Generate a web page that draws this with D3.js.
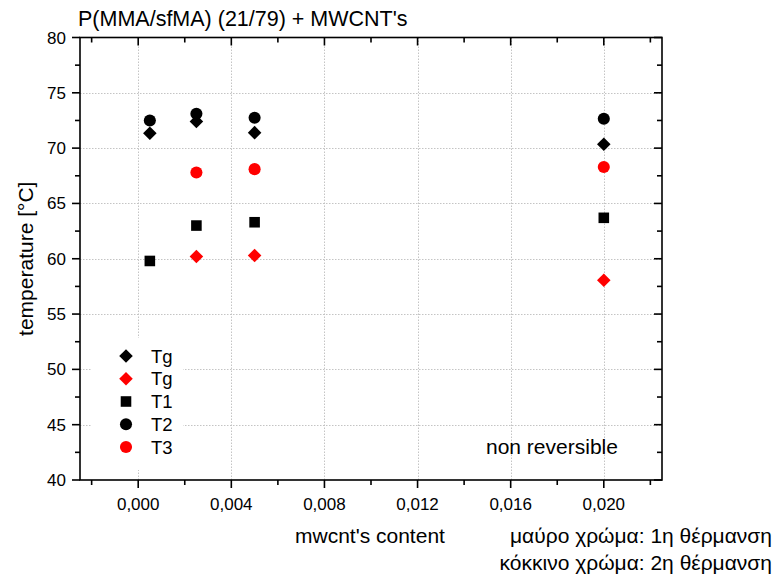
<!DOCTYPE html>
<html>
<head>
<meta charset="utf-8">
<script src="https://cdn.jsdelivr.net/npm/d3@7"></script>
<style>
  html, body { margin: 0; padding: 0; background: #fff; }
  svg text { font-family: "Liberation Sans", Arial, sans-serif; fill: #000; }
</style>
</head>
<body>
<svg id="chart" width="776" height="576"></svg>
<script>
const content = [0.0005, 0.0025, 0.005, 0.020];
const tgFirst = [71.35, 72.4, 71.4, 70.35];
const tgSecond = [null, 60.2, 60.3, 58.05];
const t1 = [59.8, 63.0, 63.3, 63.7];
const t2 = [72.5, 73.1, 72.75, 72.65];
const t3 = [null, 67.8, 68.1, 68.3];

const xTicks = [0, 0.004, 0.008, 0.012, 0.016, 0.020];
const yTicks = [40, 45, 50, 55, 60, 65, 70, 75, 80];

const series = [
  { name: "Tg", values: tgFirst, shape: "diamond", color: "#000" },
  { name: "Tg", values: tgSecond, shape: "diamond", color: "#ff0000" },
  { name: "T1", values: t1, shape: "square", color: "#000" },
  { name: "T2", values: t2, shape: "circle", color: "#000" },
  { name: "T3", values: t3, shape: "circle", color: "#ff0000" },
];

const plotLeft = 80, plotRight = 662, plotTop = 37.5, plotBottom = 480;
const svg = d3.select("#chart");

const x = d3.scaleLinear().domain([-0.0025, 0.0225]).range([plotLeft, plotRight]);
const y = d3.scaleLinear().domain([40, 80]).range([plotBottom, plotTop]);

const fmtX = (d) => d3.format(".3f")(d).replace(".", ",");
const xMinor = d3.range(-0.002, 0.0225, 0.002);
const yMinor = d3.range(40, 80.1, 2.5);

// grid
const grid = svg.append("g").attr("stroke", "#c4c4c4").attr("stroke-width", 1)
  .attr("stroke-dasharray", "1.5,1.5");
grid.selectAll(".gx").data(xTicks).join("line")
  .attr("x1", (d) => Math.round(x(d)) + 0.5).attr("x2", (d) => Math.round(x(d)) + 0.5)
  .attr("y1", plotTop).attr("y2", plotBottom);
grid.selectAll(".gy").data(yTicks.slice(1, -1)).join("line")
  .attr("y1", (d) => Math.round(y(d)) + 0.5).attr("y2", (d) => Math.round(y(d)) + 0.5)
  .attr("x1", plotLeft).attr("x2", plotRight);

// legend background covers the grid
svg.append("rect").attr("x", 92).attr("y", 338).attr("width", 91).attr("height", 132)
  .attr("fill", "#fff");

// axes
const tickSize = (major) => (major ? 8 : 5);
const isMajorX = (d) => xTicks.some((t) => Math.abs(t - d) < 1e-9);
const isMajorY = (d) => yTicks.some((t) => Math.abs(t - d) < 1e-9);

const axisG = svg.append("g").attr("stroke", "#000").attr("stroke-width", 1.6);
axisG.selectAll(".bt").data(xMinor).join("line")
  .attr("x1", (d) => x(d)).attr("x2", (d) => x(d))
  .attr("y1", plotBottom).attr("y2", (d) => plotBottom + tickSize(isMajorX(d)));
axisG.selectAll(".tt").data(xMinor).join("line")
  .attr("x1", (d) => x(d)).attr("x2", (d) => x(d))
  .attr("y1", plotTop).attr("y2", (d) => plotTop + tickSize(isMajorX(d)));
axisG.selectAll(".lt").data(yMinor).join("line")
  .attr("y1", (d) => y(d)).attr("y2", (d) => y(d))
  .attr("x1", plotLeft).attr("x2", (d) => plotLeft - tickSize(isMajorY(d)));
axisG.selectAll(".rt").data(yMinor).join("line")
  .attr("y1", (d) => y(d)).attr("y2", (d) => y(d))
  .attr("x1", plotRight).attr("x2", (d) => plotRight - tickSize(isMajorY(d)));
axisG.append("rect").attr("x", plotLeft).attr("y", plotTop)
  .attr("width", plotRight - plotLeft).attr("height", plotBottom - plotTop).attr("fill", "none");

// tick labels
svg.append("g").selectAll("text").data(xTicks).join("text")
  .attr("x", (d) => x(d)).attr("y", 510)
  .attr("text-anchor", "middle").attr("font-size", 17).text(fmtX);
svg.append("g").selectAll("text").data(yTicks).join("text")
  .attr("x", plotLeft - 14).attr("y", (d) => y(d) + 6)
  .attr("text-anchor", "end").attr("font-size", 17).text((d) => d);

// titles
svg.append("text").attr("x", 78).attr("y", 26).attr("font-size", 21.5)
  .text("P(MMA/sfMA) (21/79) + MWCNT's");
svg.append("text").attr("transform", `translate(33,${(plotTop + plotBottom) / 2}) rotate(-90)`)
  .attr("text-anchor", "middle").attr("font-size", 21).text("temperature [°C]");
svg.append("text").attr("x", 295).attr("y", 543).attr("font-size", 21).text("mwcnt's content");
svg.append("text").attr("x", 772).attr("y", 543).attr("text-anchor", "end").attr("font-size", 21)
  .text("μαύρο χρώμα: 1η θέρμανση");
svg.append("text").attr("x", 772).attr("y", 570).attr("text-anchor", "end").attr("font-size", 21)
  .text("κόκκινο χρώμα: 2η θέρμανση");
svg.append("text").attr("x", 486).attr("y", 454).attr("font-size", 21).text("non reversible");

// markers
const symbolPath = {
  diamond: d3.symbol().type(d3.symbolSquare).size(92)(),
  square: d3.symbol().type(d3.symbolSquare).size(112)(),
  circle: d3.symbol().type(d3.symbolCircle).size(115)(),
};
const rot = (s) => (s === "diamond" ? " rotate(45)" : "");

series.forEach((s) => {
  const pts = content.map((c, i) => ({ c, v: s.values[i] })).filter((p) => p.v !== null);
  svg.append("g").selectAll("path").data(pts).join("path")
    .attr("d", symbolPath[s.shape])
    .attr("transform", (p) => `translate(${x(p.c)},${y(p.v)})${rot(s.shape)}`)
    .attr("fill", s.color);
});

// legend
const legendY = d3.scalePoint().domain(d3.range(series.length)).range([356, 447]);
const legend = svg.append("g");
series.forEach((s, i) => {
  legend.append("path").attr("d", symbolPath[s.shape])
    .attr("transform", `translate(126,${legendY(i)})${rot(s.shape)}`)
    .attr("fill", s.color);
  legend.append("text").attr("x", 151).attr("y", legendY(i) + 6.5)
    .attr("font-size", 18.5).text(s.name);
});
</script>
</body>
</html>
